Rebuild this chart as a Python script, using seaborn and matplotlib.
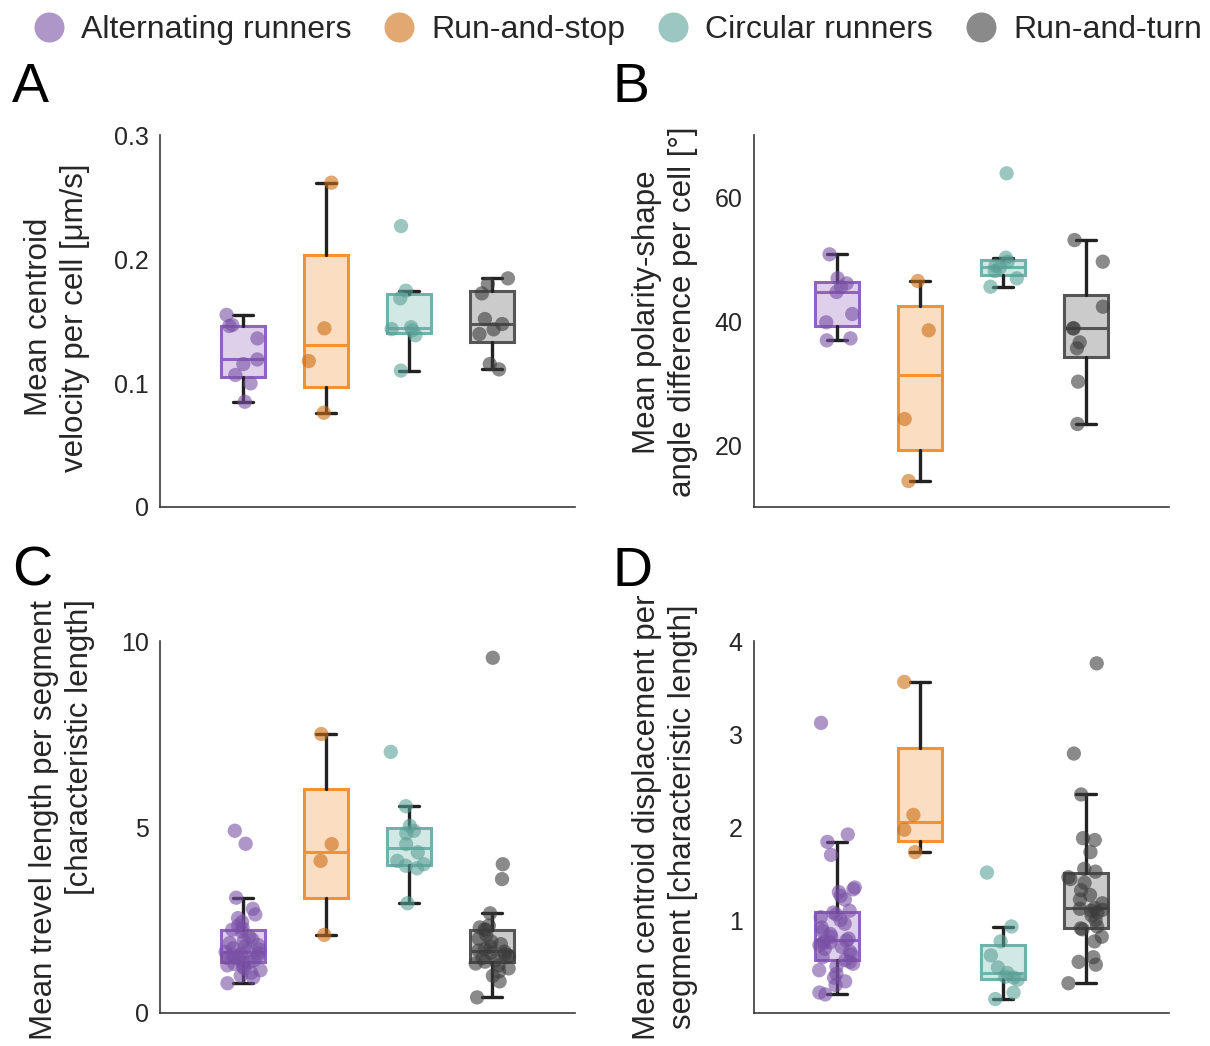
import numpy as np
import pandas as pd
import matplotlib
matplotlib.use("Agg")
import matplotlib.pyplot as plt
from matplotlib.lines import Line2D
from matplotlib.colors import to_rgba
import seaborn as sns

groups = ["Alternating runners", "Run-and-stop", "Circular runners", "Run-and-turn"]

# A: mean centroid velocity per cell [um/s]
velocity_alternating = [0.0849, 0.0997, 0.1065, 0.1153, 0.1190, 0.1360, 0.1460, 0.1468, 0.1550]
velocity_run_stop = [0.0760, 0.1177, 0.1441, 0.2616]
velocity_circular = [0.1100, 0.1385, 0.1425, 0.1435, 0.1450, 0.1683, 0.1745, 0.2266]
velocity_run_turn = [0.1110, 0.1153, 0.1395, 0.1433, 0.1476, 0.1516, 0.1723, 0.1798, 0.1844]

# B: mean polarity-shape angle difference per cell [deg]
angle_alternating = [36.88, 37.20, 39.79, 41.13, 44.68, 45.50, 46.07, 46.90, 50.76]
angle_run_stop = [14.19, 24.19, 38.50, 46.45]
angle_circular = [45.53, 46.88, 48.06, 48.60, 48.90, 49.57, 50.21, 63.82]
angle_run_turn = [23.39, 30.22, 35.60, 36.56, 38.82, 38.82, 42.31, 49.57, 53.06]

# C: mean travel length per segment [characteristic length]
travel_alternating = [0.80, 0.95, 1.00, 1.08, 1.15, 1.20, 1.25, 1.28, 1.32, 1.35,
                      1.37, 1.42, 1.45, 1.48, 1.50, 1.53, 1.56, 1.58, 1.61, 1.64,
                      1.66, 1.70, 1.74, 1.78, 1.83, 1.88, 1.93, 1.98, 2.05, 2.20,
                      2.24, 2.28, 2.35, 2.45, 2.55, 2.65, 2.80, 3.10, 4.55, 4.90]
travel_run_stop = [2.10, 4.09, 4.54, 7.50]
travel_circular = [2.95, 3.89, 3.96, 4.00, 4.09, 4.32, 4.54, 4.83, 4.90, 5.03, 5.56, 7.02]
travel_run_turn = [0.42, 0.85, 1.00, 1.12, 1.20, 1.28, 1.33, 1.38, 1.42, 1.48,
                   1.52, 1.55, 1.58, 1.62, 1.65, 1.68, 1.72, 1.78, 1.85, 1.92,
                   2.00, 2.10, 2.23, 2.25, 2.30, 2.35, 2.68, 3.60, 4.00, 9.55]

# D: mean centroid displacement per segment [characteristic length]
displacement_alternating = [0.20, 0.22, 0.30, 0.34, 0.38, 0.42, 0.46, 0.50, 0.53, 0.55,
                            0.57, 0.60, 0.63, 0.66, 0.69, 0.71, 0.73, 0.75, 0.76, 0.77,
                            0.78, 0.80, 0.82, 0.85, 0.88, 0.92, 0.96, 1.00, 1.03, 1.06,
                            1.08, 1.10, 1.22, 1.26, 1.30, 1.33, 1.35, 1.70, 1.84, 1.92, 3.12]
displacement_run_stop = [1.73, 1.97, 2.13, 3.56]
displacement_circular = [0.15, 0.22, 0.36, 0.38, 0.39, 0.43, 0.49, 0.62, 0.77, 0.93, 1.51]
displacement_run_turn = [0.32, 0.52, 0.55, 0.60, 0.77, 0.82, 0.90, 0.91, 0.93, 1.00,
                         1.05, 1.08, 1.10, 1.11, 1.12, 1.13, 1.18, 1.22, 1.27, 1.32,
                         1.40, 1.44, 1.46, 1.52, 1.55, 1.73, 1.86, 1.88, 2.35, 2.79, 3.76]

point_colors = ["#7850A5", "#CD6E14", "#5AA096", "#3C3C3C"]
box_colors = ["#9262C0", "#F39233", "#6DB3AB", "#555555"]

sns.set_style("white")
plt.rcParams["font.family"] = ["Liberation Sans", "DejaVu Sans"]
plt.rcParams["axes.edgecolor"] = "#3a3a3a"
plt.rcParams["xtick.color"] = "#3a3a3a"
plt.rcParams["ytick.color"] = "#3a3a3a"
plt.rcParams["xtick.labelcolor"] = "#262626"
plt.rcParams["ytick.labelcolor"] = "#262626"


def box_stats(values):
    v = np.asarray(values, dtype=float)
    q1, med, q3 = np.percentile(v, [25, 50, 75], method="hazen")
    iqr = q3 - q1
    lo = v[v >= q1 - 1.5 * iqr].min()
    hi = v[v <= q3 + 1.5 * iqr].max()
    return dict(med=med, q1=q1, q3=q3, whislo=lo, whishi=hi, fliers=[])


def draw_panel(ax, series, ylim, yticks, yticklabels, ylabel, label_xy, seed,
               label_align="center"):
    stats = [box_stats(s) for s in series]
    bp = ax.bxp(stats, positions=range(len(groups)), widths=0.52, capwidths=0.25,
                patch_artist=True, showfliers=False, manage_ticks=False,
                boxprops=dict(linewidth=2.2),
                whiskerprops=dict(color="#222222", linewidth=2.4),
                capprops=dict(color="#222222", linewidth=2.4),
                medianprops=dict(linewidth=2.2))
    for i, c in enumerate(box_colors):
        bp["boxes"][i].set_facecolor(to_rgba(c, 0.3))
        bp["boxes"][i].set_edgecolor(c)
        bp["medians"][i].set_color(c)

    df = pd.DataFrame({
        "group": np.repeat(groups, [len(s) for s in series]),
        "value": np.concatenate([np.asarray(s, float) for s in series]),
    })
    np.random.seed(seed)
    sns.stripplot(data=df, x="group", y="value", hue="group", order=groups,
                  hue_order=groups, palette=point_colors, jitter=0.22, size=10.3,
                  alpha=0.6, linewidth=0, legend=False, ax=ax, zorder=3)

    ax.set_xlim(-1, 4)
    ax.set_ylim(*ylim)
    ax.set_xticks(range(len(groups)))
    ax.set_xticklabels([])
    ax.set_xlabel("")
    ax.set_yticks(yticks)
    ax.set_yticklabels(yticklabels)
    ax.tick_params(direction="in", length=5, width=1.1, labelsize=18, pad=8)
    for side in ("top", "right"):
        ax.spines[side].set_visible(False)
    for side in ("left", "bottom"):
        ax.spines[side].set_linewidth(1.2)
    ax.set_ylabel(ylabel, fontsize=22.5, linespacing=1.25, multialignment=label_align)
    ax.yaxis.set_label_coords(*label_xy)


fig = plt.figure(figsize=(12.1, 10.46), dpi=100)
ax_a = fig.add_axes([0.1322, 0.5153, 0.343, 0.3556])
ax_b = fig.add_axes([0.6231, 0.5153, 0.343, 0.3556])
ax_c = fig.add_axes([0.1322, 0.03155, 0.343, 0.3556])
ax_d = fig.add_axes([0.6231, 0.03155, 0.343, 0.3556])

draw_panel(ax_a, [velocity_alternating, velocity_run_stop, velocity_circular, velocity_run_turn],
           (0, 0.3), [0, 0.1, 0.2, 0.3], ["0", "0.1", "0.2", "0.3"],
           "Mean centroid\nvelocity per cell [μm/s]", (-0.169, 0.51), 3)
draw_panel(ax_b, [angle_alternating, angle_run_stop, angle_circular, angle_run_turn],
           (10, 70), [20, 40, 60], ["20", "40", "60"],
           "Mean polarity-shape\nangle difference per cell [°]", (-0.135, 0.525), 5)
draw_panel(ax_c, [travel_alternating, travel_run_stop, travel_circular, travel_run_turn],
           (0, 10), [0, 5, 10], ["0", "5", "10"],
           "Mean trevel length per segment\n[characteristic length]", (-0.157, 0.52), 7,
           label_align="right")
draw_panel(ax_d, [displacement_alternating, displacement_run_stop, displacement_circular,
                  displacement_run_turn],
           (0, 4), [1, 2, 3, 4], ["1", "2", "3", "4"],
           "Mean centroid displacement per\nsegment [characteristic length]", (-0.135, 0.527), 11)

for letter, x, y in [("A", 0.010, 0.9025), ("B", 0.506, 0.9025),
                     ("C", 0.010, 0.4398), ("D", 0.506, 0.4398)]:
    fig.text(x, y, letter, fontsize=40, ha="left", va="baseline", color="black")

handles = [Line2D([], [], marker="o", linestyle="", markersize=21.6,
                  markerfacecolor=c, markeredgewidth=0, alpha=0.6) for c in point_colors]
fig.legend(handles, groups, loc="center", bbox_to_anchor=(0.5103, 1 - 30 / 1046),
           ncol=4, frameon=False, fontsize=23, handlelength=1.0, handletextpad=0.5,
           columnspacing=1.0, borderpad=0, borderaxespad=0)

fig.savefig("out.png", dpi=100)
